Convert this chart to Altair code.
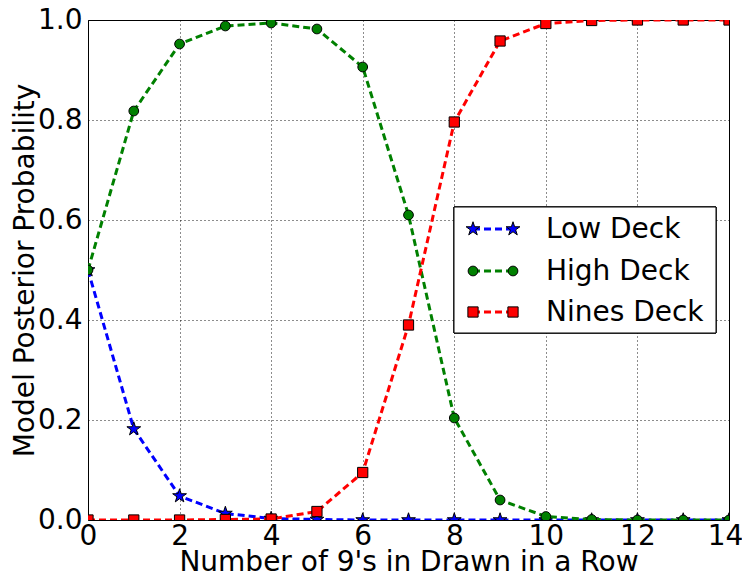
import altair as alt
import pandas as pd

# ---- data ----
draws = list(range(15))
low_deck = [0.5, 0.182, 0.048, 0.013, 0.003, 0.001, 0.0, 0.0, 0.0, 0.0, 0.0, 0.0, 0.0, 0.0, 0.0]
high_deck = [0.5, 0.818, 0.952, 0.988, 0.994, 0.982, 0.906, 0.61, 0.204, 0.04, 0.007, 0.001, 0.0, 0.0, 0.0]
nines_deck = [0.0, 0.0, 0.0, 0.001, 0.002, 0.017, 0.095, 0.39, 0.796, 0.958, 0.993, 0.999, 1.0, 1.0, 1.0]
series_names = ["Low Deck", "High Deck", "Nines Deck"]
series_colors = ["#0000ff", "#008000", "#ff0000"]
x_ticks = [0, 2, 4, 6, 8, 10, 12, 14]
y_ticks = [0.0, 0.2, 0.4, 0.6, 0.8, 1.0]

STAR = ("M0,-1L0.2245,-0.309L0.9511,-0.309L0.3633,0.118L0.5878,0.809L0,0.382"
        "L-0.5878,0.809L-0.3633,0.118L-0.9511,-0.309L-0.2245,-0.309Z")
shapes = [STAR, "circle", "square"]
sizes = [210, 95, 105]

FONT = "DejaVu Sans"
FS = 28

x_scale = alt.Scale(domain=[0, 14], nice=False, zero=False)
y_scale = alt.Scale(domain=[0, 1], nice=False)

x_axis = alt.Axis(values=x_ticks, title="Number of 9's in Drawn in a Row", format="d",
                  labelFlush=False, labelPadding=2, ticks=False, domain=False,
                  labelOffset={"condition": {"test": "datum.value == 14", "value": -4}, "value": 0},
                  titleY=50, titleBaseline="alphabetic")
y_axis = alt.Axis(values=y_ticks, title="Model Posterior Probability", format=".1f",
                  labelFlush=False, labelPadding=6, ticks=False, domain=False,
                  titleX=-55, titleBaseline="alphabetic")

enc_x = alt.X("x:Q", scale=x_scale, axis=x_axis)
enc_y = alt.Y("p:Q", scale=y_scale, axis=y_axis)

layers = []
for i, (name, vals) in enumerate(zip(series_names, [low_deck, high_deck, nines_deck])):
    df = pd.DataFrame({"x": draws, "p": vals, "series": name})
    line = alt.Chart(df).mark_line(
        color=series_colors[i], strokeWidth=3, strokeDash=[7, 4], clip=True
    ).encode(x=enc_x, y=enc_y)
    pts = alt.Chart(df).mark_point(
        shape=shapes[i], size=sizes[i], filled=True, fill=series_colors[i],
        stroke="black", strokeWidth=1, opacity=1, clip=True
    ).encode(x=enc_x, y=enc_y)
    layers += [line, pts]

# ---- legend (decoration drawn in pixel space) ----
leg = pd.DataFrame({"name": series_names})
box = alt.Chart(leg).mark_rect(fill="white", stroke="black", strokeWidth=1).encode(
    x=alt.value(366), x2=alt.value(628), y=alt.value(187), y2=alt.value(313))
layers.append(box)
row_y = [209, 251, 292]
for i, name in enumerate(series_names):
    one = leg[leg["name"] == name]
    layers.append(alt.Chart(one).mark_rule(
        color=series_colors[i], strokeWidth=3, strokeDash=[7, 4]
    ).encode(x=alt.value(385), x2=alt.value(425), y=alt.value(row_y[i])))
    for mx in (385, 425):
        layers.append(alt.Chart(one).mark_point(
            shape=shapes[i], size=sizes[i], filled=True, fill=series_colors[i],
            stroke="black", strokeWidth=1, opacity=1
        ).encode(x=alt.value(mx), y=alt.value(row_y[i])))
    layers.append(alt.Chart(one).mark_text(
        align="left", baseline="middle", font=FONT, fontSize=FS, color="black"
    ).encode(x=alt.value(458), y=alt.value(row_y[i] + 1), text="name:N"))

chart = alt.layer(*layers).properties(
    width=641, height=500,
    autosize=alt.AutoSizeParams(type="none"),
    padding={"left": 80, "top": 12, "right": 13, "bottom": 57},
    background="white",
).configure_view(
    stroke="black", strokeWidth=1
).configure_axis(
    labelFont=FONT, labelFontSize=FS, labelColor="black",
    titleFont=FONT, titleFontSize=FS, titleColor="black", titleFontWeight="normal",
    grid=True, gridColor="black", gridDash=[1, 3], gridWidth=1, gridOpacity=0.9,
)

chart.save("out.html", embed_options={"renderer": "svg", "actions": False})
